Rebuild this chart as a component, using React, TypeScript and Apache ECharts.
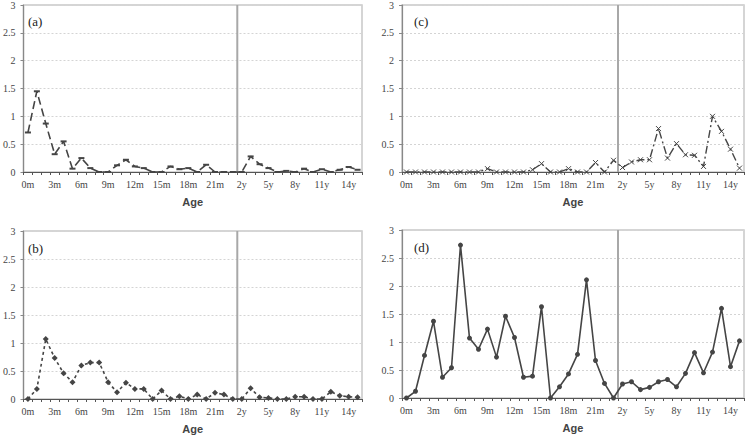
import React, { useEffect, useRef } from "react";
import * as echarts from "echarts";

const categories = [
  "0m","1m","2m","3m","4m","5m","6m","7m","8m","9m","10m","11m",
  "12m","13m","14m","15m","16m","17m","18m","19m","20m","21m","22m","23m",
  "2y","3y","4y","5y","6y","7y","8y","9y","10y","11y","12y","13y","14y","15y",
];
const monthCount = 24;

const seriesA = [
  0.71, 1.45, 0.87, 0.32, 0.55, 0.06, 0.25, 0.07, 0, 0, 0.12, 0.22,
  0.1, 0.07, 0, 0, 0.1, 0.05, 0.07, 0, 0.13, 0, 0, 0,
  0, 0.28, 0.14, 0.07, 0, 0.02, 0, 0.06, 0, 0.05, 0, 0.04, 0.09, 0.04,
];
const seriesB = [
  0, 0.18, 1.07, 0.73, 0.46, 0.3, 0.6, 0.65, 0.65, 0.3, 0.12, 0.29,
  0.18, 0.18, 0, 0.15, 0, 0.05, 0, 0.08, 0, 0.11, 0.08, 0,
  0, 0.19, 0.03, 0.02, 0, 0, 0.04, 0.04, 0, 0, 0.13, 0.06, 0.04, 0.03,
];
const seriesC = [
  0, 0, 0, 0, 0, 0, 0, 0, 0, 0.06, 0, 0,
  0, 0, 0.04, 0.15, 0, 0, 0.06, 0, 0, 0.17, 0, 0.21,
  0.08, 0.18, 0.22, 0.22, 0.78, 0.25, 0.51, 0.31, 0.3, 0.1, 1.0, 0.73, 0.41, 0.07,
];
const seriesD = [
  0, 0.12, 0.76, 1.37, 0.37, 0.54, 2.73, 1.07, 0.87, 1.23, 0.73, 1.46,
  1.08, 0.37, 0.39, 1.63, 0, 0.2, 0.43, 0.78, 2.11, 0.67, 0.26, 0,
  0.25, 0.29, 0.15, 0.19, 0.29, 0.33, 0.2, 0.44, 0.81, 0.45, 0.82, 1.6, 0.56, 1.02,
];
const panelLabels = ["(a)", "(b)", "(c)", "(d)"];

const LINE = "#454545";
const SERIF = "Liberation Serif";
const SANS = "Liberation Sans";

const panels = [
  { data: seriesA, left: 16, top: 4, width: 346, label: panelLabels[0], style: "a" },
  { data: seriesB, left: 16, top: 231, width: 346, label: panelLabels[1], style: "b" },
  { data: seriesC, left: 402, top: 4, width: 342, label: panelLabels[2], style: "c" },
  { data: seriesD, left: 402, top: 230, width: 342, label: panelLabels[3], style: "d" },
];

function styleFor(s: string): any {
  if (s === "a")
    return {
      lineStyle: { color: LINE, width: 1.6, type: [8, 4] },
      symbol: "rect",
      symbolSize: [6, 2],
      itemStyle: { color: LINE },
    };
  if (s === "b")
    return {
      lineStyle: { color: LINE, width: 1.6, type: [3, 3] },
      symbol: "diamond",
      symbolSize: 6,
      itemStyle: { color: LINE },
    };
  if (s === "c")
    return {
      lineStyle: { color: LINE, width: 1.4, type: [8, 3, 2, 3] },
      symbol: "path://M0,0L10,10M10,0L0,10",
      symbolSize: 5,
      itemStyle: { color: "none", borderColor: LINE, borderWidth: 1 },
    };
  return {
    lineStyle: { color: LINE, width: 1.6 },
    symbol: "circle",
    symbolSize: 5,
    itemStyle: { color: LINE },
  };
}

export default function App() {
  const ref = useRef<HTMLDivElement>(null);
  useEffect(() => {
    if (!ref.current) return;
    const chart = echarts.init(ref.current, null, { renderer: "svg" });
    const grid: any[] = [];
    const xAxis: any[] = [];
    const yAxis: any[] = [];
    const series: any[] = [];
    const title: any[] = [];
    panels.forEach((p, i) => {
      grid.push({
        left: p.left,
        top: p.top,
        width: p.width,
        height: 168,
        show: true,
        borderColor: "#c8c8c8",
        borderWidth: 1.5,
        backgroundColor: "#fff",
      });
      xAxis.push({
        type: "category",
        gridIndex: i,
        data: categories,
        boundaryGap: true,
        axisLine: { lineStyle: { color: "#555", width: 1.2 } },
        axisTick: { show: true, interval: 0, length: 3, lineStyle: { color: "#555" } },
        axisLabel: {
          interval: 2,
          color: "#444",
          fontFamily: SERIF,
          fontSize: 10,
          margin: 7,
        },
        name: "Age",
        nameLocation: "middle",
        nameGap: 24,
        nameTextStyle: {
          fontFamily: SANS,
          fontWeight: "bold",
          fontSize: 11,
          color: "#444",
        },
        splitLine: { show: false },
      });
      yAxis.push({
        type: "value",
        gridIndex: i,
        min: 0,
        max: 3,
        interval: 0.5,
        axisLine: { show: true, lineStyle: { color: "#888", width: 1.2 } },
        axisTick: { show: true, length: 3, lineStyle: { color: "#888" } },
        axisLabel: { color: "#444", fontFamily: SERIF, fontSize: 10, margin: 8 },
        splitLine: { show: true, lineStyle: { color: "#d4d4d4", type: [2, 2] } },
      });
      title.push({
        text: p.label,
        left: p.left + 7,
        top: p.top + 6,
        textStyle: { fontFamily: SERIF, fontSize: 13, fontWeight: "normal", color: "#222" },
      });
    });
    panels.forEach((p, i) => {
      xAxis.push({
        type: "value",
        gridIndex: i,
        min: 0,
        max: categories.length,
        show: false,
      });
    });
    panels.forEach((p, i) => {
      series.push({
        type: "line",
        xAxisIndex: 4 + i,
        yAxisIndex: i,
        data: [
          [monthCount, 0],
          [monthCount, 3],
        ],
        symbol: "none",
        lineStyle: { color: "#a8a8a8", width: 2 },
        silent: true,
        z: 1,
      });
      series.push({
        type: "line",
        xAxisIndex: i,
        yAxisIndex: i,
        data: p.data,
        showAllSymbol: true,
        z: 3,
        ...styleFor(p.style),
      });
    });
    chart.setOption({
      animation: false,
      backgroundColor: "#fff",
      title,
      grid,
      xAxis,
      yAxis,
      series,
    });
    return () => chart.dispose();
  }, []);
  return (
    <div
      ref={ref}
      style={{ position: "absolute", left: 0, top: 0, width: 749, height: 443 }}
    />
  );
}
